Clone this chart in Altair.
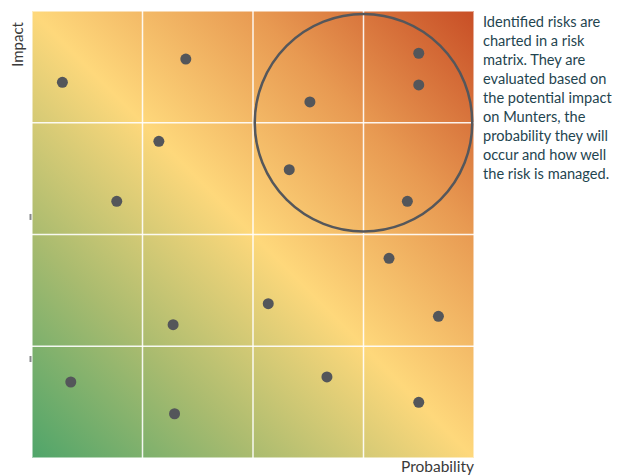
import altair as alt
import pandas as pd

# Risk positions (probability, impact) on a 0-4 scale
probability = [0.275, 1.392, 2.515, 3.500, 3.500, 1.148, 2.328, 0.767, 3.397,
               3.231, 2.138, 3.678, 1.277, 0.351, 2.669, 1.290, 3.500]
impact = [3.362, 3.570, 3.186, 3.622, 3.338, 2.834, 2.580, 2.297, 2.297,
          1.787, 1.381, 1.268, 1.193, 0.680, 0.725, 0.396, 0.498]

# Highlight circle
circle_x = [3.0]
circle_y = [3.0]

# grid divisions
grid_vals = [1, 2, 3]

# stray tick marks on the left edge
edge_ticks = [2.157, 0.886]

x_title = "Probability"
y_title = "Impact"
note_lines = ["Identified risks are", "charted in a risk", "matrix. They are",
              "evaluated based on", "the potential impact", "on Munters, the",
              "probability they will", "occur and how well", "the risk is managed."]

W, H = 442, 447

df = pd.DataFrame({"p": probability, "i": impact})
dfc = pd.DataFrame({"p": circle_x, "i": circle_y})
dft = pd.DataFrame({"i": edge_ticks})
dfg = pd.DataFrame({"v": grid_vals})
one = pd.DataFrame({"a": [0]})

xs = alt.Scale(domain=[0, 4], nice=False, zero=False)
ys = alt.Scale(domain=[0, 4], nice=False, zero=False)

noaxis = alt.Axis(labels=False, ticks=False, domain=False, grid=False, title=None)

grad = alt.LinearGradient(
    gradient="linear", x1=0, y1=1, x2=1, y2=0,
    stops=[
        alt.GradientStop(offset=0, color="#4fa56a"),
        alt.GradientStop(offset=0.25, color="#a9bb6f"),
        alt.GradientStop(offset=0.5, color="#fed87b"),
        alt.GradientStop(offset=0.75, color="#e89a52"),
        alt.GradientStop(offset=1, color="#c84e26"),
    ],
)

bg = alt.Chart(one).mark_rect(
    fill=grad, stroke="white", strokeOpacity=0.5, strokeWidth=2
).encode(
    x=alt.datum(0, type="quantitative", scale=xs, axis=noaxis),
    x2=alt.datum(4),
    y=alt.datum(0, type="quantitative", scale=ys, axis=noaxis),
    y2=alt.datum(4),
)

vgrid = alt.Chart(dfg).mark_rule(color="white", strokeWidth=1.5, opacity=0.9).encode(
    x=alt.X("v:Q", scale=xs),
)
hgrid = alt.Chart(dfg).mark_rule(color="white", strokeWidth=1.5, opacity=0.9).encode(
    y=alt.Y("v:Q", scale=ys),
)

pts = alt.Chart(df).mark_circle(size=121, color="#54565a", opacity=1).encode(
    x=alt.X("p:Q", scale=xs),
    y=alt.Y("i:Q", scale=ys),
)

circ = alt.Chart(dfc).mark_point(size=47300, filled=False, stroke="#55575b",
                                 strokeWidth=2.5, opacity=1).encode(
    x=alt.X("p:Q", scale=xs),
    y=alt.Y("i:Q", scale=ys),
)

ticks = alt.Chart(dft).mark_tick(orient="vertical", size=6, thickness=2,
                                 color="#54565a").encode(
    x=alt.value(-1.5),
    y=alt.Y("i:Q", scale=ys),
)

note = alt.Chart(one).mark_text(
    text=note_lines, align="left", baseline="top", font="Lato", fontSize=14.6,
    lineHeight=19, color="#1f4550",
).encode(x=alt.value(451), y=alt.value(3.5))

xt = alt.Chart(one).mark_text(
    text=x_title, align="right", baseline="top", font="Lato", fontSize=15.5,
    color="#3a3a3a",
).encode(x=alt.value(W), y=alt.value(H + 2))

yt = alt.Chart(one).mark_text(
    text=y_title, align="right", baseline="middle", angle=270, font="Lato",
    fontSize=15, color="#3a3a3a",
).encode(x=alt.value(-14), y=alt.value(11))

chart = alt.layer(bg, vgrid, hgrid, circ, pts, ticks, note, xt, yt).properties(
    width=W, height=H,
    autosize=alt.AutoSizeParams(type="none"),
    padding={"left": 24, "top": 3, "right": 142, "bottom": 20},
).configure_view(stroke=None)

chart.save("out.html", embed_options={"renderer": "svg", "actions": False})
